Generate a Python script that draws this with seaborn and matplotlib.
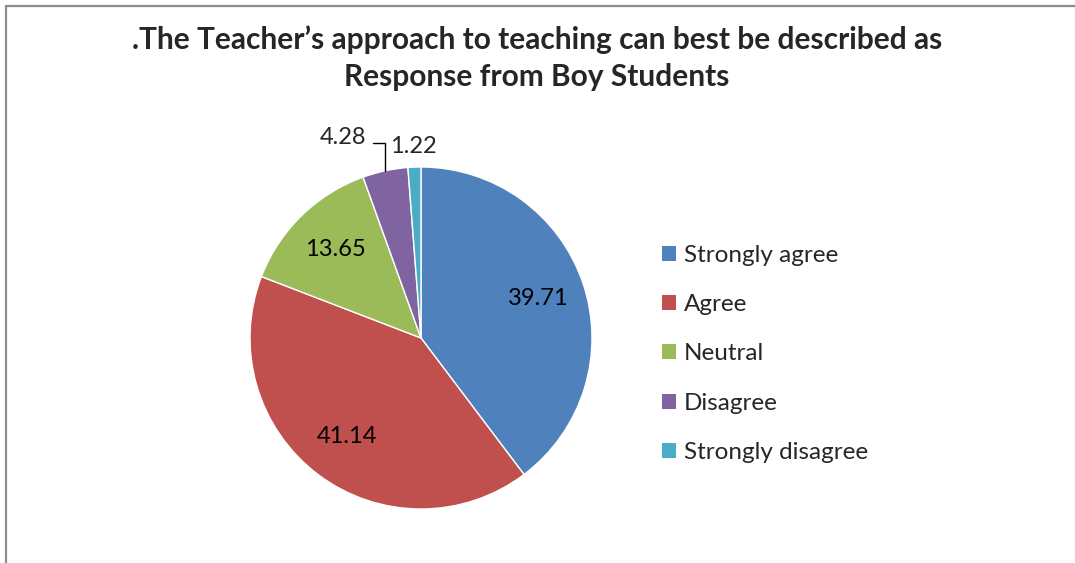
import numpy as np
import seaborn as sns
import matplotlib.pyplot as plt
from matplotlib.lines import Line2D
from matplotlib.patches import Patch

categories = ["Strongly agree", "Agree", "Neutral", "Disagree", "Strongly disagree"]
values = [39.71, 41.14, 13.65, 4.28, 1.22]
colors = ["#4F81BD", "#C0504D", "#9BBB59", "#8064A2", "#4BACC6"]
title = ".The Teacher\u2019s approach to teaching can best be described as\nResponse from Boy Students"

sns.set_theme(style="white")
plt.rcParams['font.family'] = ['Lato', 'DejaVu Sans']

fig = plt.figure(figsize=(10.75, 5.63), dpi=100)
ax = fig.add_axes([250/1075, 54/563, 342/1075, 342/563])

wedges, _ = ax.pie(values, colors=colors, startangle=90, counterclock=False,
                   radius=1, center=(0, 0), frame=False)
ax.set_xlim(-1, 1)
ax.set_ylim(-1, 1)
ax.set_aspect('equal')
ax.axis('off')

for i, w in enumerate(wedges):
    mid = np.deg2rad((w.theta1 + w.theta2) / 2)
    lbl = f"{values[i]:.2f}"
    if values[i] > 10:
        ax.text(0.72*np.cos(mid), 0.72*np.sin(mid), lbl, ha='center', va='center',
                fontsize=17, color='#000000')
    elif i == 3:
        # leader line for the small slice
        ex, ey = np.cos(mid), np.sin(mid)
        ax.plot([ex, ex, ex - 0.07], [ey, 1.14, 1.14], color='black', lw=1, clip_on=False)
        ax.text(ex - 0.11, 1.17, lbl, ha='right', va='center', fontsize=17, clip_on=False)
    else:
        ax.text(1.12*np.cos(mid), 1.12*np.sin(mid), lbl, ha='center', va='center',
                fontsize=17, clip_on=False)

fig.text(537/1075, 1 - 25/563, title, ha='center', va='top', fontsize=21.5,
         fontweight='bold', linespacing=1.4)

handles = [Patch(facecolor=c, edgecolor='none') for c in colors]
fig.legend(handles, categories, loc='center left', bbox_to_anchor=(640/1075, 1 - 354/563),
           frameon=False, fontsize=17.5, labelspacing=1.16, handlelength=0.58,
           handleheight=0.58, handletextpad=0.33)

fig.add_artist(Line2D([6/1075, 6/1075], [0, 1 - 6/563], color='#8c8c8c', lw=1.6))
fig.add_artist(Line2D([6/1075, 1], [1 - 6/563, 1 - 6/563], color='#8c8c8c', lw=1.6))

plt.savefig('out.png', dpi=100)
